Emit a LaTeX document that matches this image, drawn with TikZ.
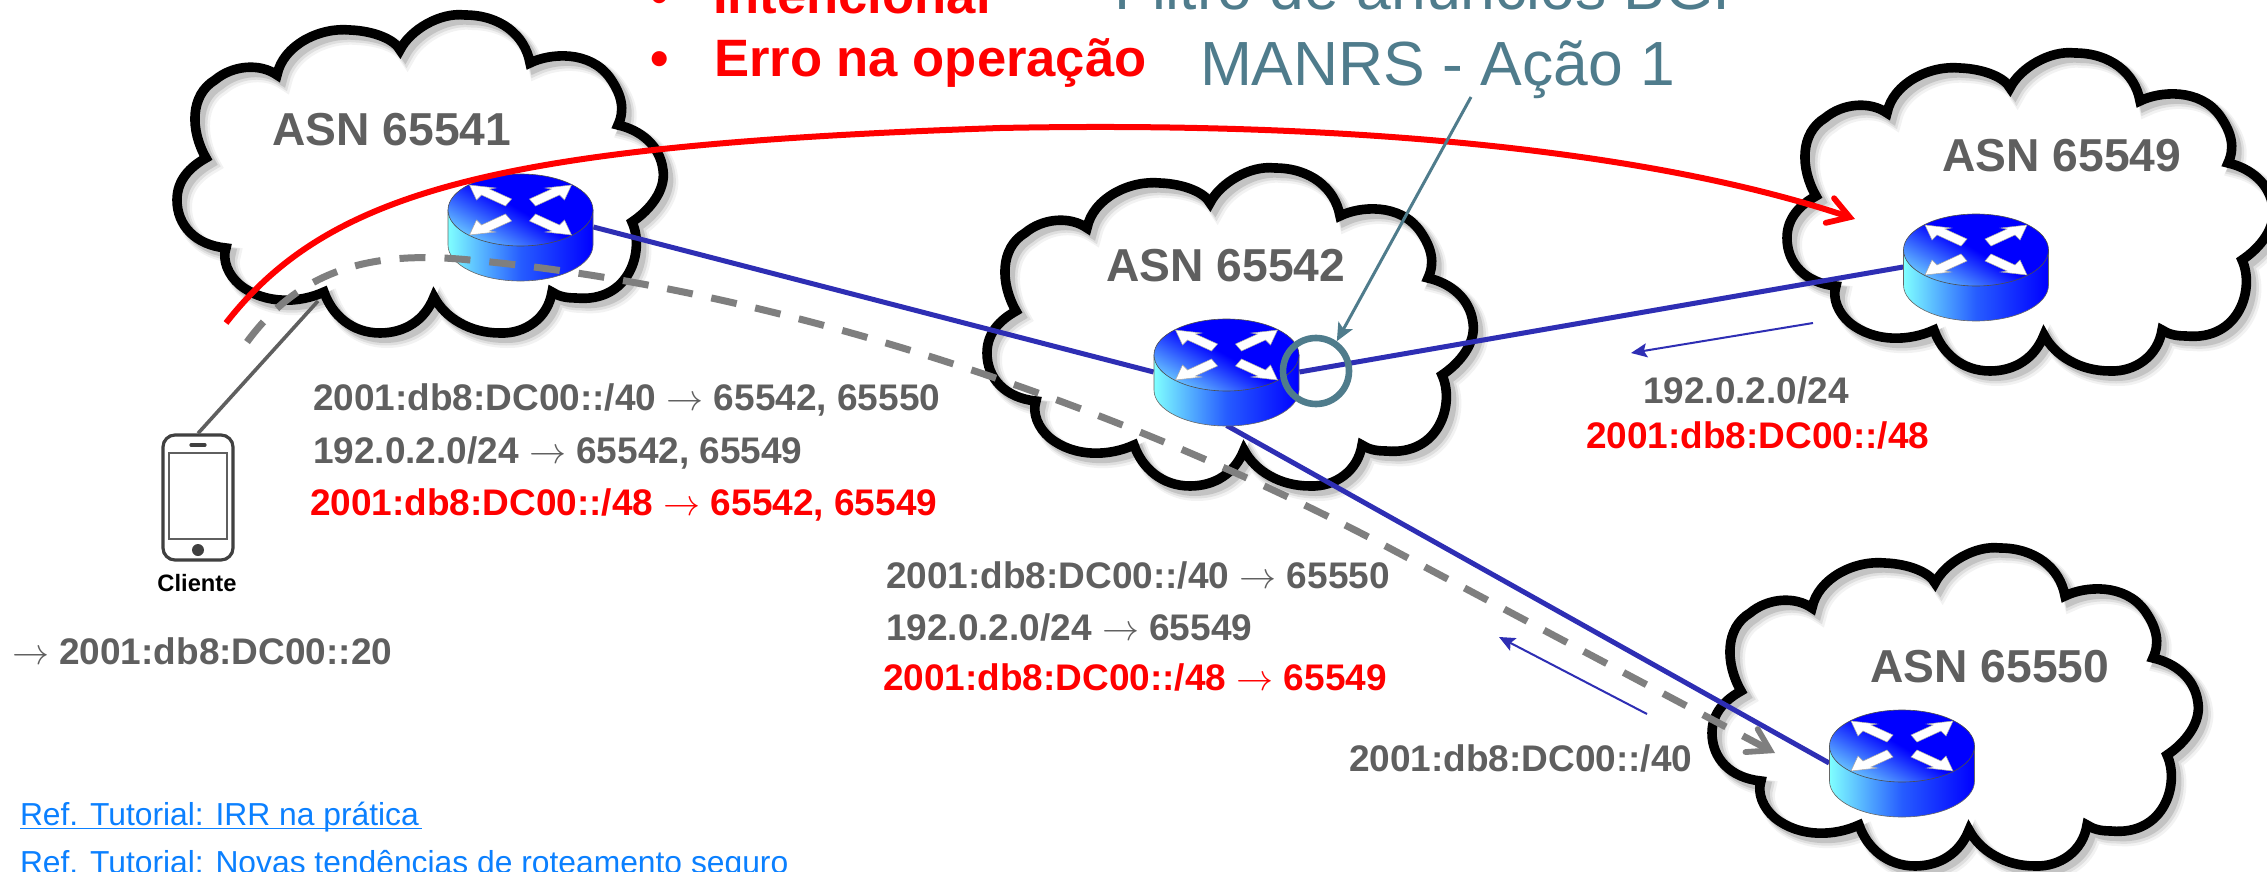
\documentclass[tikz,border=0pt]{standalone}
\usepackage{fix-cm}
\usepackage{fontspec}
\setmainfont{Liberation Sans}
\usetikzlibrary{arrows.meta}
\definecolor{txtgray}{HTML}{5F5F5F}
\definecolor{netred}{HTML}{FF0000}
\definecolor{linkblue}{HTML}{0B80FF}
\definecolor{teal2}{HTML}{4F7C8C}
\definecolor{wire}{HTML}{2E2EB4}
\definecolor{dashgray}{HTML}{7F7F7F}
\newcommand\arr{\mbox{\mdseries$\rightarrow$}}
\newcommand\cloudpath{(277,75) .. controls (283,45) and (320,27) .. (350,30) .. controls (375,31) and (395,40) .. (400,50)
 .. controls (410,30) and (440,12) .. (465,15) .. controls (500,15) and (525,35) .. (530,63)
 .. controls (550,53) and (590,50) .. (610,78) .. controls (622,95) and (625,110) .. (618,125)
 .. controls (640,130) and (660,145) .. (663,170) .. controls (666,190) and (650,210) .. (632,222)
 .. controls (645,250) and (630,303) .. (576,298) .. controls (565,298) and (558,296) .. (552,292)
 .. controls (548,318) and (525,334) .. (500,333) .. controls (470,333) and (445,318) .. (434,297)
 .. controls (425,320) and (405,333) .. (380,333) .. controls (352,333) and (332,315) .. (324,292)
 .. controls (300,303) and (265,305) .. (240,285) .. controls (228,275) and (222,260) .. (226,248)
 .. controls (195,245) and (177,225) .. (177,200) .. controls (177,180) and (190,167) .. (206,158)
 .. controls (190,130) and (190,95) .. (215,80) .. controls (233,65) and (260,63) .. (277,75) -- cycle}
\newcommand\cloudat[2]{%
 \begin{scope}[shift={(#1,#2)}]
  \fill[white] \cloudpath;
  \draw[black,opacity=.05,line width=8pt,shift={(7,7)}] \cloudpath;
  \draw[black,opacity=.08,line width=6.5pt,shift={(6,6)}] \cloudpath;
  \draw[black,opacity=.12,line width=5pt,shift={(5,5)}] \cloudpath;
  \draw[black,line width=4.8pt,line join=miter,miter limit=10] \cloudpath;
 \end{scope}}
\newcommand\routerart[1]{%
 \begin{scope}[shift={(#1.center)}]
  \path[left color=cyan!50!white,right color=blue,middle color=blue!75!cyan!85!white,draw=black!60,line width=.3pt]
    (-72.5,-17) -- (-72.5,18) .. controls (-72.5,38) and (-40,54) .. (0,54) .. controls (40,54) and (72.5,38) .. (72.5,18) -- (72.5,-17) -- cycle;
  \path[top color=blue,bottom color=blue!40!cyan!60!white,middle color=blue,shading angle=-30,draw=black!70,line width=.3pt]
    (0,-17) ellipse [x radius=72.5,y radius=36];
  \begin{scope}[shift={(0,-17)}]
   \foreach \sx/\sy in {1/1,-1/1,1/-1,-1/-1}
    \path[fill=white,draw=black!35,line width=.25pt,xscale=\sx,yscale=\sy]
      (-51,-25) -- (-44,-10) -- (-39,-15) -- (-15,-4) -- (-9,-11) -- (-31,-21) -- (-25,-22) -- cycle;
  \end{scope}
 \end{scope}}
\tikzset{
 x=0.5pt,y=-0.5pt,
 routerbox/.style={inner sep=0pt,minimum width=72.5pt,minimum height=53pt},
 lbl/.style={inner sep=0pt,outer sep=0pt,anchor=base west,text=txtgray,font=\fontsize{18.5}{22}\selectfont\bfseries},
 lblred/.style={lbl,text=netred},
 asn/.style={inner sep=0pt,outer sep=0pt,anchor=base,text=txtgray,font=\fontsize{23.1}{27}\selectfont\bfseries},
 toplbl/.style={inner sep=0pt,outer sep=0pt,anchor=base west,text=netred,font=\fontsize{26.3}{31}\selectfont\bfseries},
 teallbl/.style={inner sep=0pt,outer sep=0pt,anchor=base west,text=teal2,font=\fontsize{31.2}{37}\selectfont},
 reflbl/.style={inner sep=0pt,outer sep=0pt,anchor=base west,text=linkblue,font=\fontsize{15.9}{19}\selectfont},
 link/.style={draw=wire,line width=2.5pt},
 thinarrow/.style={draw=wire,line width=1pt,-{Stealth[length=8pt,width=7pt,inset=1.5pt]}},
 bigtip/.style={-{Straight Barb[length=10.5pt,width=13pt,line width=2.9pt,line cap=round,line join=miter]}},
}
\begin{document}
\begin{tikzpicture}
\useasboundingbox (0,0) rectangle (2267,872);
\clip (0,0) rectangle (2267,872);
\fill[white] (0,0) rectangle (2267,872);
% clouds
\cloudat{0}{0}
\cloudat{810}{153}
\cloudat{1610}{38}
\cloudat{1535}{533}
% labels in clouds
\node[asn] (a1) at (392,146) {ASN 65541};
\node[asn] (a2) at (1226,281) {ASN 65542};
\node[asn] (a3) at (2062,171) {ASN 65549};
\node[asn] (a4) at (1990,682) {ASN 65550};
% routers (anchors)
\node[routerbox] (r1) at (520.5,227) {};
\node[routerbox] (r2) at (1226.5,372) {};
\node[routerbox] (r3) at (1976,267) {};
\node[routerbox] (r4) at (1902,763) {};
% links
\draw[link] (r1.east) -- (r2.west);
\draw[link] (r2.east) -- (r3.west);
\draw[link] (r2.south) -- (r4.west);
\routerart{r1}
\routerart{r2}
\routerart{r3}
\routerart{r4}
% phone
\node[draw=black!75,line width=1.6pt,rounded corners=6pt,inner sep=0pt,minimum width=35pt,minimum height=62.5pt] (phone) at (198,497.5) {};
\draw[txtgray,line width=1.3pt] (169,453) rectangle (227,539);
\draw[black!75,line width=1.6pt,line cap=round] (191,445) -- (205,445);
\fill[black!75] (198,550) circle [radius=6];
\node[inner sep=0pt,anchor=base,font=\fontsize{11.85}{14}\selectfont\bfseries] (cli) at (197,591) {Cliente};
\coordinate (c1foot) at (318,301);
\draw[txtgray,line width=1.8pt] (phone.north) -- (c1foot);
% curves
\coordinate (gs) at (247,342);
\coordinate (gm) at (470,260);
\coordinate (gn) at (1393,550);
\coordinate (ge) at (1775,753);
\draw[dashgray,line width=3.5pt,dash pattern=on 13pt off 9.5pt,bigtip] (gs) .. controls (300,270) and (370,250) .. (gm) .. controls (800,290) and (1150,420) .. (gn) -- (ge);
\coordinate (rs) at (226,323);
\coordinate (rm) at (1000,128);
\coordinate (re) at (1855,219);
\draw[netred,line width=3pt,bigtip] (rs) .. controls (330,190) and (500,145) .. (rm) .. controls (1400,120) and (1680,160) .. (re);
% thin arrows
\coordinate (t1a) at (1813,323);
\coordinate (t1b) at (1631,353);
\coordinate (t2a) at (1647,714);
\coordinate (t2b) at (1499,637);
\draw[thinarrow] (t1a) -- (t1b);
\draw[thinarrow] (t2a) -- (t2b);
% ring and MANRS pointer
\node[draw=teal2,line width=3.3pt,circle,inner sep=0pt,minimum size=33pt] (ring) at (1316,371) {};
\coordinate (mf) at (1471,97);
\draw[teal2,line width=1.5pt,-{Stealth[length=9pt,width=8pt,inset=2pt]}] (mf) -- (ring.55);
% texts
\node[toplbl] (b1) at (650,14) {•};
\node[toplbl] (t1) at (713,14) {Intencional};
\node[toplbl] (b2) at (650,77) {•};
\node[toplbl] (t2) at (714,77) {Erro na operação};
\node[teallbl] (f1) at (1114,10) {Filtro de anúncios BGP};
\node[teallbl] (f2) at (1200,86) {MANRS - Ação 1};
\node[lbl] (l1) at (313,410) {2001:db8:DC00::/40 \arr{} 65542, 65550};
\node[lbl] (l2) at (313,463) {192.0.2.0/24 \arr{} 65542, 65549};
\node[lblred] (l3) at (310,515) {2001:db8:DC00::/48 \arr{} 65542, 65549};
\node[lbl] (m1) at (886,588) {2001:db8:DC00::/40 \arr{} 65550};
\node[lbl] (m2) at (886,640) {192.0.2.0/24 \arr{} 65549};
\node[lblred] (m3) at (883,690) {2001:db8:DC00::/48 \arr{} 65549};
\node[lbl] (e1) at (1643,403) {192.0.2.0/24};
\node[lblred] (e2) at (1586,448) {2001:db8:DC00::/48};
\node[lbl] (s1) at (1349,771) {2001:db8:DC00::/40};
\node[lbl] (dst) at (12,664) {\arr{} 2001:db8:DC00::20};
\node[reflbl] (ref1) at (20,825) {\rlap{\rule[-2.2pt]{201pt}{.8pt}}Ref. Tutorial: IRR na prática};
\node[reflbl] (ref2) at (20,873) {\rlap{\rule[-2.2pt]{320pt}{.8pt}}Ref. Tutorial: Novas tendências de roteamento seguro};
\end{tikzpicture}
\end{document}
